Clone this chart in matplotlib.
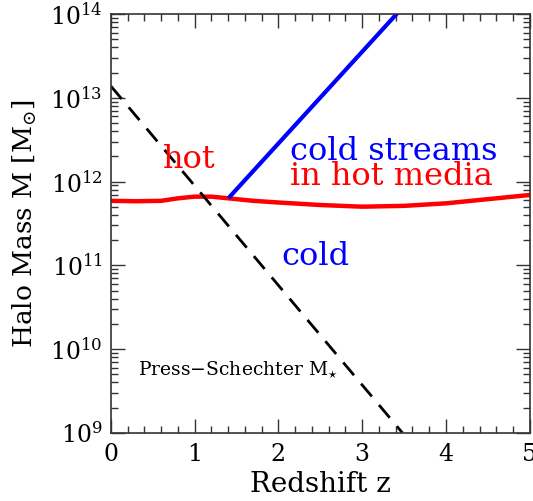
import numpy as np
import matplotlib
matplotlib.use("Agg")
import matplotlib.pyplot as plt
from matplotlib.ticker import LogLocator, MultipleLocator, NullFormatter

plt.rcParams['font.family'] = ['DejaVu Serif']
plt.rcParams['mathtext.fontset'] = 'dejavuserif'

# Hot/cold boundary (red)
z_crit = [0.0, 0.3, 0.6, 0.8, 1.0, 1.2, 1.4, 1.7, 2.0, 2.5, 3.0, 3.5, 4.0, 4.5, 5.0]
logM_crit = [11.77, 11.765, 11.77, 11.80, 11.82, 11.82, 11.80, 11.77, 11.75, 11.72, 11.70, 11.71, 11.74, 11.79, 11.84]
# Cold streams upper boundary (blue)
z_stream = [1.42, 3.41]
logM_stream = [11.82, 14.0]
# Press-Schechter M* (dashed black)
z_ps = [0.0, 3.48]
logM_ps = [13.14, 9.0]

fig = plt.figure(figsize=(5.33, 5.01), dpi=100)
ax = fig.add_axes([0.208, 0.136, 0.786, 0.836])

ax.plot(z_crit, 10**np.array(logM_crit), color='red', lw=3.2)
ax.plot(z_stream, 10**np.array(logM_stream), color='blue', lw=3)
ax.plot(z_ps, 10**np.array(logM_ps), color='black', lw=2, dashes=(6, 4))

ax.set_yscale('log')
ax.set_xlim(0, 5)
ax.set_ylim(1e9, 1e14)
ax.xaxis.set_major_locator(MultipleLocator(1))
ax.xaxis.set_minor_locator(MultipleLocator(0.2))
ax.yaxis.set_major_locator(LogLocator(base=10, numticks=10))
ax.yaxis.set_minor_locator(LogLocator(base=10, subs=np.arange(2, 10), numticks=10))
ax.yaxis.set_minor_formatter(NullFormatter())
ax.tick_params(which='both', direction='in', top=True, right=True, colors='#333333',
               labelcolor='black', labelsize=17)
ax.tick_params(which='major', length=10, width=1)
ax.tick_params(which='minor', length=5, width=1)
ax.tick_params(axis='x', pad=7)
ax.tick_params(axis='y', pad=6)
for s in ax.spines.values():
    s.set_color('#333333')
    s.set_linewidth(1.2)

ax.set_xlabel('Redshift z', fontsize=20, labelpad=4)
ax.set_ylabel(r'Halo Mass M [M$_{\odot}$]', fontsize=19, labelpad=8)

ax.text(0.62, 10**12.16, 'hot', color='red', fontsize=23, ha='left', va='baseline')
ax.text(2.14, 10**12.26, 'cold streams', color='blue', fontsize=23, ha='left', va='baseline')
ax.text(2.14, 10**11.96, 'in hot media', color='red', fontsize=23, ha='left', va='baseline')
ax.text(2.04, 10**11.005, 'cold', color='blue', fontsize=23, ha='left', va='baseline')
ax.text(0.32, 10**9.69, r'Press$-$Schechter M$_{\star}$', color='black', fontsize=13.5,
        ha='left', va='baseline')

fig.savefig('out.png', dpi=100)
